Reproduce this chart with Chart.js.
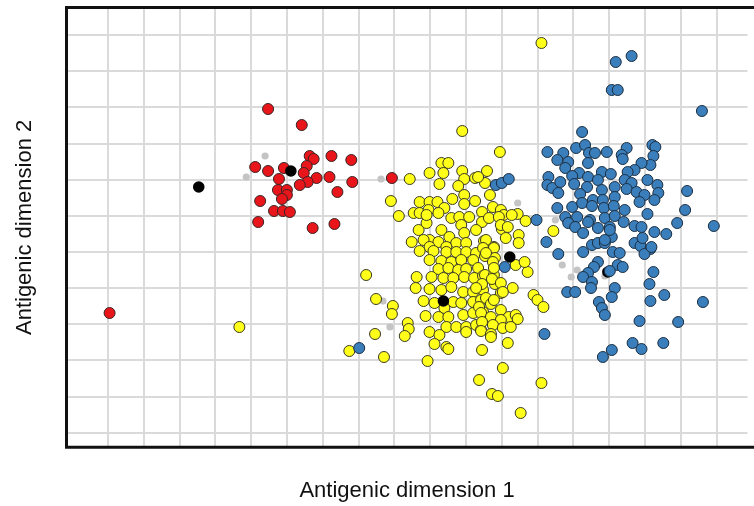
<!DOCTYPE html>
<html>
<head>
<meta charset="utf-8">
<script src="https://cdn.jsdelivr.net/npm/chart.js@4.4.1/dist/chart.umd.min.js"></script>
<style>
  html, body { margin: 0; padding: 0; background: #fff; overflow: hidden; }
  #wrap { width: 754px; height: 506px; }
</style>
</head>
<body>
<div id="wrap"><canvas id="map"></canvas></div>
<script>
// ===== DATA (map coordinates, one unit = one map pixel) =====
const xGrid = [108.3, 144.5, 180.6, 216.8, 252.9, 289.1, 325.2, 361.4, 397.5,
               433.7, 469.8, 506.0, 542.1, 578.3, 614.4, 650.6, 686.7, 722.9];
const yGrid = [35.0, 71.2, 107.3, 143.5, 179.6, 215.8, 251.9, 288.1, 324.2,
               360.4, 396.5, 432.7];

const grayPoints = [
  [267,156],[248,177],[384,179],[522,203],[560,220],[386,301],[393,327],
  [567,265],[582,270],[576,277],[610,276]
];

const redPoints = [
  [270,109],[304,125],[312,156],[316,159],[334,156],[354,160],[257,167],[270,171],
  [286,168],[309,166],[306,173],[281,179],[319,178],[332,177],[310,182],[302,185],
  [355,182],[280,190],[289,190],[289,195],[284,199],[340,192],[262,201],[276,211],
  [285,211],[292,212],[260,222],[315,228],[337,224],[395,178],[110,313]
];

const yellowPoints = [
  // outliers
  [546,43],[466,131],[504,152],[241,327],[369,275],[352,351],[387,357],[379,299],
  [378,334],[396,306],[395,314],[411,323],[412,329],[408,336],[431,361],[507,368],
  [483,380],[546,383],[496,394],[502,396],[525,413],[486,350],[512,343],[558,231],
  [532,272],[538,295],[542,300],[548,307],
  // upper part
  [445,163],[452,163],[413,179],[433,173],[447,173],[466,171],[491,171],[468,179],
  [479,178],[489,183],[443,184],[462,186],[394,201],[402,216],[423,202],[433,202],
  [441,202],[456,199],[468,195],[479,201],[494,195],[497,207],[505,210],[508,215],
  [522,214],[530,221],[482,177],[516,215],[486,212],[468,204],[448,208],
  // middle
  [417,213],[423,213],[432,210],[442,213],[455,218],[463,217],[473,217],[486,222],
  [493,218],[503,217],[506,229],[510,238],[523,235],[523,243],[415,242],[422,230],
  [430,223],[445,230],[453,237],[465,225],[468,233],[480,230],[488,241],[498,247],
  [433,240],[442,242],[460,243],[470,243],[427,240],[505,225],[512,227],[490,240],
  [430,215],[433,247],[450,247],
  // dense core
  [423,251],[437,251],[450,252],[460,252],[470,252],[480,253],[433,260],[445,261],
  [455,262],[465,260],[477,260],[442,269],[452,268],[462,270],[470,269],[482,268],
  [420,277],[435,277],[447,278],[457,278],[468,277],[478,278],[487,276],[419,288],
  [433,289],[445,290],[455,287],[467,292],[477,292],[487,290],[427,301],[438,303],
  [457,302],[465,303],[477,302],[485,300],[448,308],[429,316],[442,317],[452,317],
  [467,315],[477,313],[487,312],[450,327],[460,327],[470,327],[480,325],[433,332],
  [443,335],[438,344],[450,347],[452,349],[470,332],[485,330],
  // right side of core
  [487,248],[498,248],[489,256],[499,258],[520,265],[489,275],[498,275],[486,284],
  [499,284],[517,288],[505,293],[490,298],[483,307],[495,304],[505,310],[513,317],
  [520,315],[485,313],[495,317],[505,320],[486,322],[497,325],[507,328],[485,331],
  [495,334],[497,262],[490,253],[529,262],[498,268],[496,279],[505,283],[480,288],
  [498,300],[507,292],[522,319],[515,327],[495,337]
];

const blackPoints = [
  [200,187],[293,171],[514,257],[447,301],[613,272]
];

const bluePoints = [
  [621,62],[637,56],[617,90],[623,90],[708,111],[587,132],
  [552,152],[553,177],[552,185],[557,188],[500,185],[506,183],[513,179],[541,220],[551,242],
  [581,148],[590,145],[594,153],[600,153],[612,152],[632,148],[627,155],[628,159],
  [658,145],[661,147],[659,156],[656,165],[647,163],[640,170],[633,172],[568,153],
  [573,162],[562,160],[593,163],[570,168],[584,173],[577,176],[565,182],[593,177],
  [607,172],[616,174],[603,180],[579,184],[592,187],[607,190],[620,187],[630,180],
  [637,183],[653,180],[663,185],[632,189],[642,192],[664,193],[660,200],[650,195],
  [645,202],[693,191],[691,210],[563,193],[585,194],[598,200],[608,200],[620,197],
  [577,207],[587,203],[597,206],[609,208],[619,206],[630,210],[562,208],[570,217],
  [582,217],[595,220],[610,218],[620,216],[653,214],[629,222],
  [573,223],[580,227],[593,222],[603,228],[615,227],[640,226],[647,227],[660,232],
  [672,234],[683,223],[720,226],[588,233],[617,237],[597,245],[603,243],[610,243],
  [640,243],[646,246],[648,238],[656,249],[650,254],[618,252],[625,253],[588,252],
  [563,254],[603,262],[599,267],[623,265],[628,267],[615,271],[593,273],[588,277],
  [597,282],[596,288],[659,272],[655,284],[620,288],[617,297],[604,302],[607,308],
  [610,315],[572,292],[580,292],[670,295],[656,301],[709,302],[645,321],[684,322],
  [610,240],[615,230],[657,247],
  [509,267],[549,334],[638,343],[647,349],[669,343],[617,350],[608,357],[362,348]
];

// ===== HELPERS =====
const toXY = pts => pts.map(([x, y]) => ({ x: x, y: y }));

function pointSet(label, pts, fill, radius, stroke, order) {
  return {
    label: label,
    data: toXY(pts),
    backgroundColor: fill,
    borderColor: stroke,
    borderWidth: stroke ? 1 : 0,
    pointRadius: radius,
    pointHoverRadius: radius,
    order: order
  };
}

// frame on left, top and bottom (right side runs off the picture)
const framePlugin = {
  id: "frame",
  beforeDatasetsDraw(chart) {
    const { ctx, chartArea: a } = chart;
    ctx.save();
    ctx.strokeStyle = "#111";
    ctx.lineWidth = 3;
    ctx.beginPath();
    ctx.moveTo(chart.width + 5, a.top);
    ctx.lineTo(a.left, a.top);
    ctx.lineTo(a.left, a.bottom);
    ctx.lineTo(chart.width + 5, a.bottom);
    ctx.stroke();
    ctx.restore();
  }
};

const titleFont = { family: "'Liberation Sans', Arial, sans-serif", size: 22 };

new Chart(document.getElementById("map"), {
  type: "scatter",
  data: {
    datasets: [
      pointSet("Other", grayPoints, "#c4c4c4", 3.6, null, 5),
      pointSet("Cluster A", redPoints, "#e8161b", 5.5, "#3a2424", 4),
      pointSet("Cluster B", yellowPoints, "#ffff1a", 5.5, "#3a3a22", 3),
      pointSet("Reference", blackPoints, "#000000", 5.8, null, 2),
      pointSet("Cluster C", bluePoints, "#3a7ebb", 5.5, "#1c2f42", 1)
    ]
  },
  options: {
    responsive: true,
    maintainAspectRatio: false,
    animation: false,
    events: [],
    layout: { padding: { top: 7.5, right: 0, bottom: 0, left: 0 } },
    plugins: {
      legend: { display: false },
      tooltip: { enabled: false }
    },
    scales: {
      x: {
        type: "linear",
        min: 66.5,
        max: 754,
        afterBuildTicks: scale => { scale.ticks = xGrid.map(v => ({ value: v })); },
        ticks: { display: false },
        grid: { color: "#dadada", lineWidth: 2, drawTicks: false },
        border: { display: false },
        title: {
          display: true,
          text: "Antigenic dimension 1",
          color: "#111",
          font: titleFont,
          padding: { top: 30.5, bottom: 1.8 }
        }
      },
      y: {
        type: "linear",
        reverse: true,
        min: 7.5,
        max: 447.3,
        afterBuildTicks: scale => { scale.ticks = yGrid.map(v => ({ value: v })); },
        ticks: { display: false },
        grid: { color: "#dadada", lineWidth: 2, drawTicks: false },
        border: { display: false },
        title: {
          display: true,
          text: "Antigenic dimension 2",
          color: "#111",
          font: titleFont,
          padding: { top: 11.8, bottom: 28.3 }
        }
      }
    }
  },
  plugins: [framePlugin]
});
</script>
</body>
</html>
